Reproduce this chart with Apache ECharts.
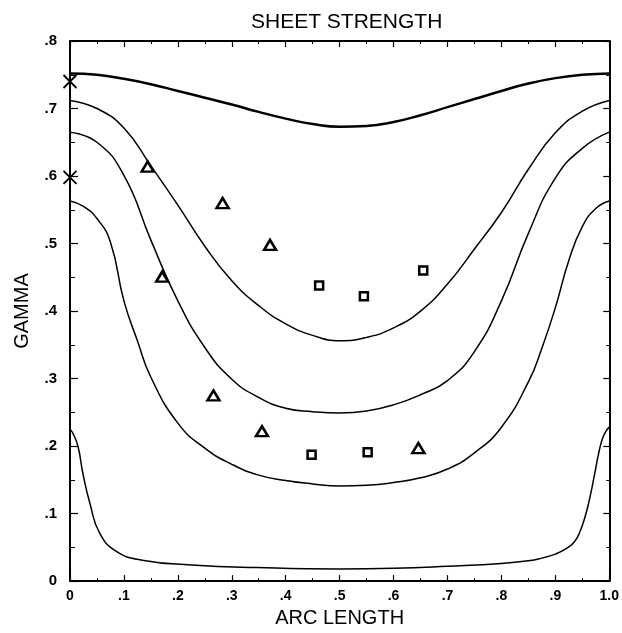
<!DOCTYPE html>
<html>
<head>
<meta charset="utf-8">
<script src="https://cdn.jsdelivr.net/npm/echarts@6/dist/echarts.min.js"></script>
<style>
  html, body { margin: 0; padding: 0; background: #fff; }
  #echarts { width: 622px; height: 633px; }
</style>
</head>
<body>
<div id="echarts"></div>
<script>
// curves: arc length -> gamma
var arc1 = [0, 0.05, 0.1, 0.15, 0.2, 0.25, 0.3, 0.35, 0.4, 0.45, 0.5, 0.55, 0.6, 0.65, 0.7, 0.75, 0.8, 0.85, 0.9, 0.95, 1.0];
var gamma1 = [0.752, 0.750, 0.744, 0.736, 0.726, 0.716, 0.706, 0.695, 0.685, 0.677, 0.673, 0.674, 0.680, 0.690, 0.702, 0.714, 0.726, 0.737, 0.745, 0.750, 0.752];

var arc2 = [0, 0.05, 0.1, 0.15, 0.2, 0.25, 0.3, 0.35, 0.4, 0.45, 0.5, 0.55, 0.6, 0.65, 0.7, 0.75, 0.8, 0.85, 0.9, 0.95, 1.0];
var gamma2 = [0.712, 0.700, 0.671, 0.615, 0.557, 0.496, 0.445, 0.408, 0.381, 0.364, 0.356, 0.361, 0.375, 0.400, 0.440, 0.492, 0.546, 0.610, 0.664, 0.696, 0.712];

var arc3 = [0, 0.05, 0.1, 0.15, 0.2, 0.25, 0.3, 0.35, 0.4, 0.45, 0.5, 0.55, 0.6, 0.65, 0.7, 0.75, 0.8, 0.85, 0.9, 0.95, 1.0];
var gamma3 = [0.665, 0.650, 0.601, 0.505, 0.415, 0.346, 0.299, 0.272, 0.256, 0.251, 0.249, 0.252, 0.261, 0.276, 0.297, 0.340, 0.415, 0.515, 0.597, 0.641, 0.665];

var arc4 = [0, 0.025, 0.05, 0.075, 0.1, 0.125, 0.15, 0.2, 0.25, 0.3, 0.35, 0.4, 0.45, 0.5, 0.55, 0.6, 0.65, 0.7, 0.75, 0.8, 0.85, 0.875, 0.9, 0.925, 0.95, 0.975, 1.0];
var gamma4 = [0.563, 0.555, 0.537, 0.502, 0.415, 0.356, 0.302, 0.234, 0.197, 0.173, 0.157, 0.149, 0.144, 0.141, 0.142, 0.146, 0.153, 0.166, 0.190, 0.228, 0.295, 0.345, 0.405, 0.475, 0.525, 0.552, 0.563];

var arc5 = [0, 0.006, 0.015, 0.024, 0.037, 0.055, 0.086, 0.134, 0.226, 0.349, 0.5, 0.6, 0.7, 0.8, 0.85, 0.875, 0.9, 0.92, 0.935, 0.945, 0.955, 0.963, 0.972, 0.98, 0.987, 0.994, 1.0];
var gamma5 = [0.225, 0.218, 0.199, 0.159, 0.115, 0.071, 0.044, 0.031, 0.024, 0.020, 0.018, 0.019, 0.022, 0.026, 0.030, 0.034, 0.040, 0.048, 0.058, 0.072, 0.095, 0.120, 0.155, 0.188, 0.210, 0.222, 0.228];

// measured points
var crossArc = [0, 0];
var crossGamma = [0.740, 0.598];
var triArc = [0.144, 0.283, 0.371, 0.171, 0.266, 0.356, 0.646];
var triGamma = [0.614, 0.560, 0.498, 0.451, 0.275, 0.222, 0.197];
var sqArc = [0.462, 0.545, 0.655, 0.448, 0.552];
var sqGamma = [0.438, 0.422, 0.460, 0.187, 0.191];

var xTicks = ['0', '.1', '.2', '.3', '.4', '.5', '.6', '.7', '.8', '.9', '1.0'];
var yTicks = ['0', '.1', '.2', '.3', '.4', '.5', '.6', '.7', '.8'];

function pairs(xs, ys) {
    var out = [];
    for (var i = 0; i < xs.length; i++) out.push([xs[i], ys[i]]);
    return out;
}

var chart = echarts.init(document.getElementById('echarts'));
var font = 'Liberation Sans, Arial, sans-serif';

function curve(xs, ys, w) {
    return {
        type: 'line',
        data: pairs(xs, ys),
        smooth: 0.5,
        showSymbol: false,
        silent: true,
        lineStyle: { color: '#000', width: w },
        z: 3
    };
}

var baseAxis = {
    axisLine: { show: true, onZero: false, lineStyle: { color: '#000', width: 2 } },
    axisTick: { show: true, inside: true, length: 6, lineStyle: { color: '#000', width: 1.2 } },
    minorTick: { show: true, splitNumber: 2, length: 3, lineStyle: { color: '#000', width: 1 } },
    splitLine: { show: false },
    minorSplitLine: { show: false }
};

var option = {
    backgroundColor: '#fff',
    animation: false,
    title: {
        text: 'SHEET STRENGTH',
        left: 246,
        top: 7,
        textStyle: { fontFamily: font, fontSize: 21, fontWeight: 'normal', color: '#000' }
    },
    grid: { left: 70, right: 7, top: 41, bottom: 48 },
    xAxis: [
        Object.assign({}, baseAxis, {
            type: 'value', min: 0, max: 1, interval: 0.1, position: 'bottom',
            name: 'ARC LENGTH', nameLocation: 'middle', nameGap: 22,
            nameTextStyle: { fontFamily: font, fontSize: 20, color: '#000' },
            axisLabel: {
                margin: 8, color: '#000', fontFamily: font, fontSize: 14, fontWeight: 'bold',
                formatter: function (v) { return xTicks[Math.round(v * 10)]; }
            }
        }),
        Object.assign({}, baseAxis, {
            type: 'value', min: 0, max: 1, interval: 0.1, position: 'top',
            axisLabel: { show: false }
        })
    ],
    yAxis: [
        Object.assign({}, baseAxis, {
            type: 'value', min: 0, max: 0.8, interval: 0.1, position: 'left',
            name: 'GAMMA', nameLocation: 'middle', nameGap: 38, nameRotate: 90,
            nameTextStyle: { fontFamily: font, fontSize: 20, color: '#000' },
            axisTick: { show: true, inside: true, length: 8, lineStyle: { color: '#000', width: 1.2 } },
            minorTick: { show: true, splitNumber: 2, length: 5, lineStyle: { color: '#000', width: 1 } },
            axisLabel: {
                margin: 13, color: '#000', fontFamily: font, fontSize: 15, fontWeight: 'bold',
                formatter: function (v) { return yTicks[Math.round(v * 10)]; }
            }
        }),
        Object.assign({}, baseAxis, {
            type: 'value', min: 0, max: 0.8, interval: 0.1, position: 'right',
            axisLabel: { show: false }
        })
    ],
    series: [
        curve(arc1, gamma1, 2.5),
        curve(arc2, gamma2, 1.5),
        curve(arc3, gamma3, 1.5),
        curve(arc4, gamma4, 1.5),
        curve(arc5, gamma5, 1.5),
        {
            type: 'scatter',
            data: pairs(crossArc, crossGamma),
            symbol: 'path://M0,0L10,10M10,0L0,10',
            symbolSize: 13,
            itemStyle: { color: 'none', borderColor: '#000', borderWidth: 1.8, opacity: 1 },
            z: 5
        },
        {
            type: 'scatter',
            data: pairs(triArc, triGamma),
            symbol: 'triangle',
            symbolSize: [12, 10],
            itemStyle: { color: '#fff', borderColor: '#000', borderWidth: 2.5, opacity: 1 },
            z: 5
        },
        {
            type: 'scatter',
            data: pairs(sqArc, sqGamma),
            symbol: 'rect',
            symbolSize: 8,
            itemStyle: { color: '#fff', borderColor: '#000', borderWidth: 2.5, opacity: 1 },
            z: 5
        }
    ]
};
chart.setOption(option);
</script>
</body>
</html>
